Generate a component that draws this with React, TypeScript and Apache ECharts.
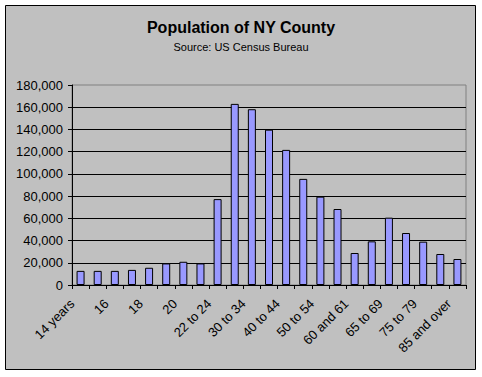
import React, { useEffect, useRef } from "react";
import * as echarts from "echarts";

const categories = [
  "14 years", "15", "16", "17", "18", "19", "20", "21", "22 to 24", "25 to 29",
  "30 to 34", "35 to 39", "40 to 44", "45 to 49", "50 to 54", "55 to 59",
  "60 and 61", "62 to 64", "65 to 69", "70 to 74", "75 to 79", "80 to 84", "85 and over",
];
const population = [
  12700, 12700, 12700, 13600, 15500, 19400, 20900, 19400, 77300, 163000,
  158200, 139800, 121600, 95500, 79500, 68400, 28800, 39300, 60600, 46800,
  39000, 27900, 23400,
];
const titleText = "Population of NY County";
const subtitleText = "Source: US Census Bureau";
const yMin = 0;
const yMax = 180000;
const yStep = 20000;

const FONT = 'Arial, "Liberation Sans", sans-serif';

export default function App() {
  const ref = useRef<HTMLDivElement>(null);
  useEffect(() => {
    document.body.style.margin = "0";
    const chart = echarts.init(ref.current!, null, { renderer: "svg" });
    chart.setOption({
      animation: false,
      backgroundColor: "#ffffff",
      graphic: [
        {
          type: "rect",
          z: -100,
          silent: true,
          shape: { x: 5.5, y: 5.5, width: 470, height: 364 },
          style: { fill: "#C0C0C0", stroke: "#000000", lineWidth: 1 },
        },
      ],
      title: [
        {
          text: titleText,
          left: "center",
          top: 14,
          textStyle: { fontFamily: FONT, fontSize: 16, fontWeight: "bold", color: "#000" },
        },
        {
          text: subtitleText,
          left: "center",
          top: 36,
          textStyle: { fontFamily: FONT, fontSize: 11, fontWeight: "normal", color: "#000" },
        },
      ],
      grid: {
        left: 72,
        right: 16,
        top: 85,
        bottom: 92,
        show: true,
        backgroundColor: "#C0C0C0",
        borderColor: "#808080",
        borderWidth: 1,
      },
      xAxis: {
        type: "category",
        data: categories,
        axisLine: { lineStyle: { color: "#000", width: 1 } },
        axisTick: { show: true, length: 4, interval: 0, lineStyle: { color: "#000" } },
        axisLabel: {
          interval: 1,
          rotate: 45,
          margin: 8,
          padding: [0, 12, 0, 0],
          fontFamily: FONT,
          fontSize: 13,
          color: "#000",
        },
        splitLine: { show: false },
      },
      yAxis: {
        type: "value",
        min: yMin,
        max: yMax,
        interval: yStep,
        axisLine: { show: true, lineStyle: { color: "#000", width: 1 } },
        axisTick: { show: true, length: 4, lineStyle: { color: "#000" } },
        axisLabel: {
          margin: 9,
          fontFamily: FONT,
          fontSize: 13,
          color: "#000",
          formatter: (v: number) => String(v).replace(/\B(?=(\d{3})+(?!\d))/g, ","),
        },
        splitLine: {
          show: true,
          showMaxLine: false,
          lineStyle: { color: "#000", width: 1 },
        },
      },
      series: [
        {
          type: "bar",
          data: population,
          barWidth: 8,
          itemStyle: { color: "#9999FF", borderColor: "#000", borderWidth: 1 },
        },
      ],
    });
    return () => chart.dispose();
  }, []);
  return <div ref={ref} style={{ width: 482, height: 377 }} />;
}
